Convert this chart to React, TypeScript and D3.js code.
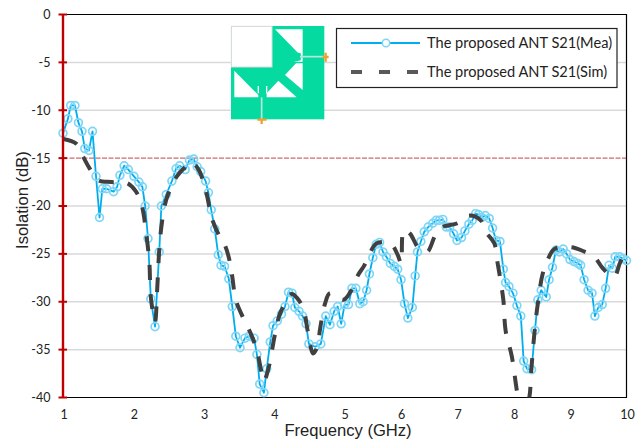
import React from "react";
import * as d3 from "d3";

const xTicks = [1, 2, 3, 4, 5, 6, 7, 8, 9, 10];
const yTicks = [0, -5, -10, -15, -20, -25, -30, -35, -40];
const threshold = -15;

const meaFreq = [1.00,1.07,1.11,1.17,1.22,1.27,1.31,1.37,1.42,1.47,1.52,1.56,1.62,1.72,1.77,1.81,1.87,1.93,2.01,2.08,2.13,2.17,2.21,2.25,2.31,2.37,2.40,2.47,2.55,2.61,2.66,2.74,2.80,2.86,2.91,2.96,3.03,3.07,3.11,3.16,3.21,3.25,3.30,3.36,3.41,3.46,3.52,3.59,3.65,3.72,3.76,3.80,3.86,3.90,3.95,3.99,4.05,4.11,4.16,4.21,4.26,4.30,4.36,4.41,4.46,4.50,4.59,4.67,4.74,4.80,4.86,4.91,4.96,5.01,5.08,5.14,5.21,5.28,5.34,5.40,5.45,5.51,5.57,5.63,5.69,5.75,5.82,5.89,5.95,6.01,6.07,6.13,6.21,6.26,6.30,6.36,6.42,6.49,6.57,6.63,6.69,6.75,6.81,6.87,6.94,7.00,7.08,7.14,7.21,7.27,7.33,7.38,7.44,7.50,7.57,7.63,7.69,7.76,7.82,7.86,7.92,7.99,8.06,8.13,8.18,8.24,8.32,8.38,8.43,8.49,8.58,8.63,8.69,8.75,8.81,8.88,8.94,9.00,9.07,9.14,9.19,9.25,9.32,9.39,9.44,9.50,9.57,9.63,9.69,9.75,9.80,9.88,9.94,10.00];
const meaDb = [-12.4,-10.9,-9.5,-9.5,-11.3,-12.2,-14.0,-14.2,-12.2,-16.9,-21.2,-18.2,-18.2,-18.5,-18.0,-16.8,-15.8,-16.2,-16.9,-17.5,-18.0,-20.0,-23.4,-29.7,-32.6,-24.8,-20.0,-18.8,-17.4,-16.1,-15.8,-16.2,-15.2,-15.1,-15.9,-16.4,-17.4,-18.6,-20.4,-22.4,-25.1,-26.2,-26.3,-27.6,-30.5,-33.6,-34.8,-33.8,-33.6,-33.8,-35.5,-38.6,-39.5,-37.0,-34.2,-32.5,-32.0,-31.3,-30.5,-29.0,-29.1,-30.6,-31.0,-31.5,-32.3,-34.4,-34.7,-34.4,-31.5,-32.4,-31.0,-30.5,-32.3,-30.3,-30.3,-28.6,-28.6,-30.2,-30.0,-28.8,-27.1,-25.4,-24.0,-23.8,-24.8,-25.3,-26.0,-26.3,-26.6,-27.7,-30.2,-31.7,-30.6,-27.3,-24.8,-23.7,-22.7,-22.2,-21.8,-21.5,-21.5,-21.4,-22.2,-22.2,-22.9,-23.6,-23.3,-22.6,-21.9,-21.5,-20.8,-20.9,-21.2,-21.0,-21.3,-22.3,-23.6,-23.7,-26.6,-28.0,-28.4,-29.1,-30.4,-31.5,-36.2,-37.0,-37.1,-33.0,-29.8,-28.8,-29.5,-27.7,-26.4,-24.6,-24.8,-24.5,-25.0,-25.6,-25.8,-26.0,-26.2,-27.7,-28.8,-29.1,-31.5,-30.6,-30.3,-28.6,-26.2,-26.5,-25.3,-25.3,-25.5,-25.7];

const simFreq = [1.00,1.19,1.29,1.38,1.50,1.69,1.91,2.04,2.12,2.19,2.23,2.25,2.31,2.34,2.37,2.40,2.45,2.50,2.62,2.76,2.83,2.93,3.00,3.05,3.12,3.23,3.31,3.38,3.41,3.46,3.56,3.64,3.71,3.77,3.83,3.86,3.92,4.02,4.09,4.18,4.26,4.33,4.42,4.49,4.56,4.62,4.66,4.73,4.80,4.99,5.11,5.25,5.36,5.46,5.58,5.82,5.95,6.01,6.06,6.17,6.32,6.47,6.62,6.74,7.01,7.21,7.42,7.51,7.66,7.72,7.82,7.86,7.97,8.04,8.08,8.17,8.28,8.31,8.37,8.43,8.52,8.63,8.72,9.02,9.23,9.43,9.58,9.78,9.88,10.00];
const simDb = [-13.0,-13.5,-14.9,-16.1,-17.3,-17.5,-17.6,-18.5,-19.9,-23.2,-26.0,-29.5,-32.1,-28.8,-24.6,-22.2,-19.9,-18.7,-16.9,-15.8,-15.4,-16.2,-17.5,-18.9,-21.3,-23.2,-24.2,-26.0,-27.4,-29.8,-31.6,-32.8,-34.0,-35.4,-37.5,-38.3,-37.1,-33.3,-31.2,-30.0,-29.2,-29.6,-30.7,-33.3,-35.4,-34.7,-32.8,-30.2,-29.1,-29.8,-29.0,-27.2,-26.2,-24.9,-23.9,-23.9,-25.1,-26.0,-22.5,-22.9,-24.4,-24.8,-23.0,-22.2,-21.8,-21.0,-21.5,-22.7,-23.9,-26.0,-29.8,-33.0,-35.7,-38.5,-40.0,-42.0,-40.0,-37.5,-33.3,-30.2,-27.0,-25.3,-24.5,-24.3,-24.7,-25.3,-26.5,-27.4,-26.0,-24.4];

const meaName = "The proposed ANT S21(Mea)";
const simName = "The proposed ANT S21(Sim)";

const W = 643, H = 443;
const left = 63, right = 626.5, top = 14.5, bottom = 397.5;
const x = d3.scaleLinear().domain([1, 5, 10]).range([left, 344, right]);
const y = d3.scaleLinear().domain([0, -40]).range([top, bottom]);

const meaPts = meaFreq.map((f, i) => [x(f), y(meaDb[i])] as [number, number]);
const simPts = simFreq.map((f, i) => [x(f), y(simDb[i])] as [number, number]);
const lineLin = d3.line();
const lineSmooth = d3.line().curve(d3.curveCatmullRom.alpha(0.5));

const TICK_FONT = "Lato, 'Open Sans', sans-serif";
const BLUE = "#00aeef";
const RING = "#7ed6f7";
const DARK = "#404040";
const RED = "#c00000";
const GREEN = "#05dba1";

function Inset() {
  return (
    <g transform="translate(220,10) scale(0.3333)">
      <rect x={33} y={48} width={280} height={280} fill={GREEN} />
      <rect x={34} y={49} width={122} height={122} fill="#fff" stroke="#dcdcdc" strokeWidth={3} />
      <polygon points="165,58 248,58 248,155 215,155 240,148 240,132 214,127 235,130" fill="#fff" />
      <polygon points="195,195 228,160 248,160 248,240" fill="#fff" />
      <polygon points="43,182 115,255 115,262 43,262" fill="#fff" />
      <polygon points="140,250 175,212 230,262 140,262" fill="#fff" />
      <path d="M214,128 L240,132 L240,140 L248,140" fill="none" stroke={GREEN} strokeWidth={5} />
      <path d="M214,155 L240,149 L240,142" fill="none" stroke={GREEN} strokeWidth={5} />
      <path d="M240,140 L315,140" stroke="#b5e8d8" strokeWidth={5} fill="none" />
      <path d="M125,262 L125,330" stroke="#b5e8d8" strokeWidth={5} fill="none" />
      <path d="M115,228 L115,250 M140,228 L140,250" stroke="#fff" strokeWidth={4} fill="none" />
      <path d="M317,128 V155 M308,141 H326" stroke="#f0a030" strokeWidth={7} fill="none" />
      <path d="M112,329 H140 M125,329 V342" stroke="#f0a030" strokeWidth={7} fill="none" />
    </g>
  );
}

export default function App() {
  return (
    <svg width={W} height={H} viewBox={`0 0 ${W} ${H}`} style={{ position: "absolute", left: 0, top: 0, background: "#fff" }}>
      <defs>
        <clipPath id="plot">
          <rect x={left} y={top} width={right - left} height={bottom - top} />
        </clipPath>
      </defs>

      {yTicks.filter(t => t !== 0 && t !== -40 && t !== threshold).map(t => (
        <line key={t} x1={left} x2={right} y1={y(t)} y2={y(t)} stroke="#d9d9d9" strokeWidth={1.5} />
      ))}
      <line x1={left} x2={right} y1={y(threshold)} y2={y(threshold)} stroke="#cf6a6a" strokeWidth={1.3} strokeDasharray="5 1.5" />

      <path d={`M${left},${top}H${right}V${bottom}H${left}`} fill="none" stroke="#000" strokeWidth={1.2} />

      <Inset />

      <path d={lineLin(meaPts) ?? ""} fill="none" stroke={BLUE} strokeWidth={1.8} strokeLinejoin="round" />
      {meaPts.map((p, i) => (
        <circle key={i} cx={p[0]} cy={p[1]} r={3.9} fill="none" stroke={RING} strokeWidth={1.7} />
      ))}
      <path d={lineSmooth(simPts) ?? ""} fill="none" stroke={DARK} strokeWidth={4} strokeDasharray="15 14" clipPath="url(#plot)" />

      <line x1={left} x2={left} y1={top} y2={bottom} stroke={RED} strokeWidth={2.4} />
      {yTicks.map(t => (
        <line key={t} x1={58.5} x2={67} y1={y(t)} y2={y(t)} stroke={RED} strokeWidth={2} />
      ))}

      {yTicks.map(t => (
        <text key={t} x={50.5} y={y(t)} dy="0.35em" textAnchor="end" fontFamily={TICK_FONT} fontSize={12.5} fill="#222">{t}</text>
      ))}
      {xTicks.map(t => (
        <text key={t} x={x(t) + 1} y={415} dy="0.35em" textAnchor="middle" fontFamily={TICK_FONT} fontSize={12.5} fill="#222">{t}</text>
      ))}

      <text x={348} y={436} textAnchor="middle" fontFamily="'Liberation Sans', Arial, sans-serif" fontSize={16.6} fill="#222">Frequency (GHz)</text>
      <text transform="translate(28,200) rotate(-90)" textAnchor="middle" fontFamily="'Liberation Sans', Arial, sans-serif" fontSize={16.6} fill="#222">Isolation (dB)</text>

      <rect x={336.5} y={28.5} width={280.5} height={59} fill="#fff" stroke="#222" strokeWidth={1.2} />
      <line x1={351} x2={420} y1={43} y2={43} stroke={BLUE} strokeWidth={1.8} />
      <circle cx={386} cy={43} r={3.7} fill="#fff" stroke={RING} strokeWidth={1.5} />
      <line x1={351} x2={421} y1={72} y2={72} stroke="#595959" strokeWidth={4} strokeDasharray="11 17" />
      <text x={427} y={43} dy="0.35em" fontFamily={TICK_FONT} fontSize={14.6} fill="#222">{meaName}</text>
      <text x={427} y={72} dy="0.35em" fontFamily={TICK_FONT} fontSize={14.6} fill="#222">{simName}</text>
    </svg>
  );
}
